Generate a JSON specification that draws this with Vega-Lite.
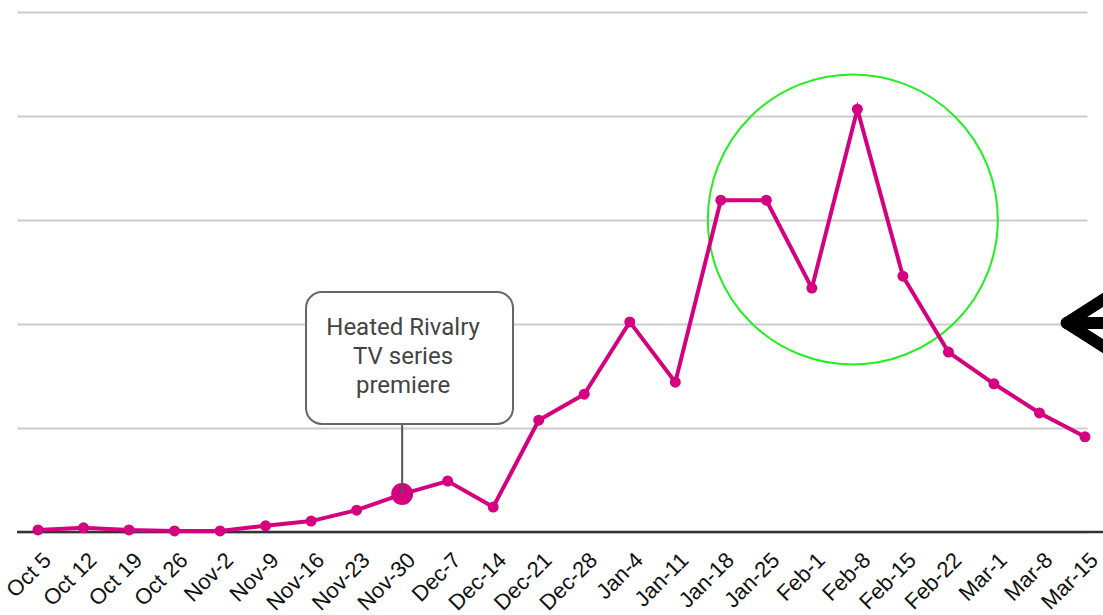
{
  "$schema": "https://vega.github.io/schema/vega-lite/v6.json",
  "width": 1070,
  "height": 520,
  "autosize": "none",
  "padding": {"left": 17, "top": 12, "right": 16, "bottom": 83},
  "background": "white",
  "config": {"view": {"stroke": null}},
  "datasets": {
    "weeks": [
      {"x": 0, "label": "Oct 5", "y": 0.4},
      {"x": 1, "label": "Oct 12", "y": 0.8},
      {"x": 2, "label": "Oct 19", "y": 0.4},
      {"x": 3, "label": "Oct 26", "y": 0.2},
      {"x": 4, "label": "Nov-2", "y": 0.2},
      {"x": 5, "label": "Nov-9", "y": 1.2},
      {"x": 6, "label": "Nov-16", "y": 2.1},
      {"x": 7, "label": "Nov-23", "y": 4.2},
      {"x": 8, "label": "Nov-30", "y": 7.3},
      {"x": 9, "label": "Dec-7", "y": 9.8},
      {"x": 10, "label": "Dec-14", "y": 4.8},
      {"x": 11, "label": "Dec-21", "y": 21.5},
      {"x": 12, "label": "Dec-28", "y": 26.5},
      {"x": 13, "label": "Jan-4", "y": 40.4},
      {"x": 14, "label": "Jan-11", "y": 28.8},
      {"x": 15, "label": "Jan-18", "y": 63.8},
      {"x": 16, "label": "Jan-25", "y": 63.8},
      {"x": 17, "label": "Feb-1", "y": 46.9},
      {"x": 18, "label": "Feb-8", "y": 81.3},
      {"x": 19, "label": "Feb-15", "y": 49.2},
      {"x": 20, "label": "Feb-22", "y": 34.6},
      {"x": 21, "label": "Mar-1", "y": 28.5},
      {"x": 22, "label": "Mar-8", "y": 22.9},
      {"x": 23, "label": "Mar-15", "y": 18.3}
    ],
    "premiere": [{"x": 8, "y": 7.3}],
    "baseline": [{"x": -0.461, "x2": 23.5, "y": 0}],
    "box": [{"x": 5.888, "x2": 10.435, "y": 20.77, "y2": 46.15}],
    "connector": [{"x": 8, "y": 7.3, "y2": 20.77}],
    "note": [{"x": 8.02, "y": 39.23, "t": "Heated Rivalry|TV series|premiere"}],
    "ring": [{"x": 17.9, "y": 60.1}],
    "arrow": [
      {"seg": "up", "o": 0, "x": 22.6, "y": 40.2},
      {"seg": "up", "o": 1, "x": 23.6, "y": 45.8},
      {"seg": "mid", "o": 0, "x": 22.6, "y": 40.2},
      {"seg": "mid", "o": 1, "x": 23.6, "y": 40.2},
      {"seg": "low", "o": 0, "x": 22.6, "y": 40.2},
      {"seg": "low", "o": 1, "x": 23.6, "y": 34.6}
    ]
  },
  "encoding": {
    "x": {
      "field": "x",
      "type": "quantitative",
      "scale": {"domain": [-0.461, 23.044], "nice": false, "zero": false},
      "axis": {
        "title": null,
        "values": [0,1,2,3,4,5,6,7,8,9,10,11,12,13,14,15,16,17,18,19,20,21,22,23],
        "labelExpr": "['Oct 5','Oct 12','Oct 19','Oct 26','Nov-2','Nov-9','Nov-16','Nov-23','Nov-30','Dec-7','Dec-14','Dec-21','Dec-28','Jan-4','Jan-11','Jan-18','Jan-25','Feb-1','Feb-8','Feb-15','Feb-22','Mar-1','Mar-8','Mar-15'][datum.value]",
        "labelAngle": -45,
        "labelAlign": "right",
        "labelBaseline": "top",
        "labelFont": "Liberation Sans",
        "labelFontSize": 22,
        "labelColor": "#111111",
        "labelPadding": 17,
        "labelOffset": 2,
        "labelOverlap": false,
        "labelBound": false,
        "labelFlush": false,
        "ticks": false,
        "domain": false,
        "grid": false
      }
    },
    "y": {
      "field": "y",
      "type": "quantitative",
      "scale": {"domain": [0, 100], "nice": false, "zero": false},
      "axis": {
        "title": null,
        "values": [0, 20, 40, 60, 80, 100],
        "labels": false,
        "ticks": false,
        "domain": false,
        "grid": true,
        "gridColor": "#cccccc",
        "gridWidth": 2
      }
    }
  },
  "layer": [
    {
      "data": {"name": "baseline"},
      "mark": {"type": "rule", "color": "#333333", "strokeWidth": 2.5},
      "encoding": {"x2": {"field": "x2"}}
    },
    {
      "data": {"name": "ring"},
      "mark": {"type": "point", "shape": "circle", "filled": false, "size": 84100, "stroke": "#22ee22", "strokeWidth": 2, "opacity": 1}
    },
    {
      "data": {"name": "weeks"},
      "mark": {"type": "line", "color": "#d4007f", "strokeWidth": 4}
    },
    {
      "data": {"name": "weeks"},
      "mark": {"type": "point", "filled": true, "size": 120, "color": "#d4007f", "opacity": 1}
    },
    {
      "data": {"name": "premiere"},
      "mark": {"type": "point", "filled": true, "size": 480, "color": "#d4007f", "opacity": 1}
    },
    {
      "data": {"name": "connector"},
      "mark": {"type": "rule", "color": "#555555", "strokeWidth": 2},
      "encoding": {"y2": {"field": "y2"}}
    },
    {
      "data": {"name": "box"},
      "mark": {"type": "rect", "fill": "white", "stroke": "#666666", "strokeWidth": 2, "cornerRadius": 16},
      "encoding": {"x2": {"field": "x2"}, "y2": {"field": "y2"}}
    },
    {
      "data": {"name": "note"},
      "mark": {"type": "text", "font": "Roboto", "fontSize": 24, "color": "#444444", "align": "center", "baseline": "middle", "lineBreak": "|", "lineHeight": 29},
      "encoding": {"text": {"field": "t"}}
    },
    {
      "data": {"name": "arrow"},
      "mark": {"type": "line", "color": "#000000", "strokeWidth": 12, "strokeCap": "round", "strokeJoin": "round"},
      "encoding": {"detail": {"field": "seg"}, "order": {"field": "o"}}
    }
  ]
}
